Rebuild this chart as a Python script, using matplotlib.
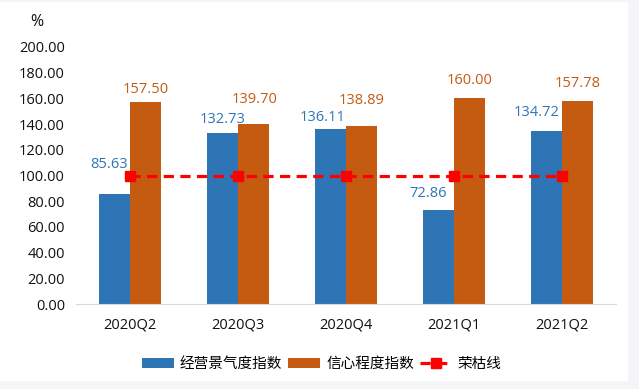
import numpy as np
import matplotlib.pyplot as plt
from matplotlib.patches import Rectangle

plt.rcParams['font.family'] = ['Open Sans', 'Noto Sans CJK SC', 'DejaVu Sans']

quarters = ['2020Q2', '2020Q3', '2020Q4', '2021Q1', '2021Q2']
business = [85.63, 132.73, 136.11, 72.86, 134.72]   # 经营景气度指数
confidence = [157.50, 139.70, 138.89, 160.00, 157.78]  # 信心程度指数
boom_line = [100, 100, 100, 100, 100]  # 荣枯线
yticks = [0, 20, 40, 60, 80, 100, 120, 140, 160, 180, 200]

blue = '#2E75B6'
orange = '#C55A11'

# label nudges in pixels (dx, dy to text centre above bar top)
blue_dx = [-5, 0, -8, -10, -10]
blue_dy = [29, 14, 12, 17, 18]
orange_dx = [0, 1, 0, 0, 0]
orange_dy = [12, 25, 25, 18, 18]

fig = plt.figure(figsize=(6.39, 3.89), dpi=100, facecolor='#f4f5f7')
fig.patches.append(Rectangle((0, 8 / 389), 628 / 639, 379 / 389,
                             transform=fig.transFigure, facecolor='white',
                             edgecolor='none', zorder=-5))
ax = fig.add_axes([76 / 639, 1 - 304 / 389, 540 / 639, 257 / 389])
ax.set_facecolor('none')

x = np.arange(len(quarters))
w = 0.287
b1 = ax.bar(x - w / 2, business, w, color=blue, label='经营景气度指数', zorder=2)
b2 = ax.bar(x + w / 2, confidence, w, color=orange, label='信心程度指数', zorder=2)
ln, = ax.plot(x, boom_line, color='#FF0000', lw=2.3, linestyle=(0, (3.2, 2)),
              marker='s', markersize=6.5, label='荣枯线', zorder=3)

for i in range(len(x)):
    ax.annotate(f'{business[i]:.2f}', (x[i] - w / 2, business[i]),
                xytext=(blue_dx[i], blue_dy[i]), textcoords='offset pixels',
                ha='center', va='center', color=blue, fontsize=10.5)
    ax.annotate(f'{confidence[i]:.2f}', (x[i] + w / 2, confidence[i]),
                xytext=(orange_dx[i], orange_dy[i]), textcoords='offset pixels',
                ha='center', va='center', color=orange, fontsize=10.5)

ax.set_xlim(-0.5, len(quarters) - 0.5)
ax.set_ylim(0, 200)
ax.set_yticks(yticks)
ax.set_yticklabels([f'{v:.2f}' for v in yticks])
ax.set_xticks(x)
ax.set_xticklabels(quarters)
ax.tick_params(length=0, labelsize=10.5, colors='#111111')
ax.tick_params(axis='x', pad=10)
ax.tick_params(axis='y', pad=8)
for s in ['top', 'right', 'left']:
    ax.spines[s].set_visible(False)
ax.spines['bottom'].set_color('#d9d9d9')

fig.text(37 / 639, 1 - 22 / 389, '%', ha='center', va='center', fontsize=11.5, color='#111111')

leg = ax.legend([b1, b2, ln], ['经营景气度指数', '信心程度指数', '荣枯线'],
                loc='center', bbox_to_anchor=(0.455, -0.233), ncol=3, frameon=False,
                handlelength=2.2, handleheight=0.7, handletextpad=0.4,
                columnspacing=0.4, prop={'family': ['Noto Sans CJK SC'], 'size': 10.5})

fig.savefig('out.png', dpi=100, facecolor=fig.get_facecolor())
